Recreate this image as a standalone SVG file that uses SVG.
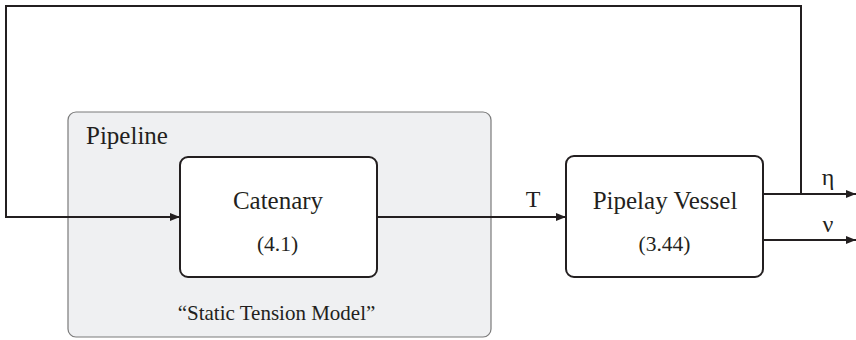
<svg xmlns="http://www.w3.org/2000/svg" width="856" height="340" viewBox="0 0 856 340">
<style>
.t{fill:#231f20}
.blk{fill:#fff;stroke:#231f20;stroke-width:2}
.ln{fill:none;stroke:#231f20;stroke-width:2}
</style>
<defs>
<marker id="ah" viewBox="0 0 10 8" refX="10" refY="4" markerWidth="10" markerHeight="8" markerUnits="userSpaceOnUse" orient="auto">
<path d="M0,0 L10,4 L0,8 z" fill="#231f20"/>
</marker>
</defs>
<g font-family="'Liberation Serif', 'DejaVu Serif', serif">
<g id="pipeline">
<rect x="68" y="112" width="423" height="225" rx="8" fill="#eff0f2" stroke="#7a7a7a" stroke-width="1.2"/>
<text class="t" x="86" y="144" font-size="25">Pipeline</text>
<text class="t" x="276.5" y="320" font-size="21" text-anchor="middle">“Static Tension Model”</text>
</g>
<g id="catenary">
<rect class="blk" x="180" y="157" width="197" height="120" rx="8"/>
<text class="t" x="278" y="209" font-size="25" text-anchor="middle">Catenary</text>
<text class="t" x="277.5" y="251" font-size="21.5" text-anchor="middle">(4.1)</text>
</g>
<g id="vessel">
<rect class="blk" x="566" y="156" width="197" height="121" rx="8"/>
<text class="t" x="665" y="209" font-size="25" text-anchor="middle">Pipelay Vessel</text>
<text class="t" x="664.5" y="251" font-size="21.5" text-anchor="middle">(3.44)</text>
</g>
<g id="connectors">
<path class="ln" d="M801,194 V6 H6 V217 H180" marker-end="url(#ah)"/>
<path class="ln" d="M377,217 H566" marker-end="url(#ah)"/>
<path class="ln" d="M763,194 H856" marker-end="url(#ah)"/>
<path class="ln" d="M763,240 H856" marker-end="url(#ah)"/>
<text class="t" x="533" y="207" font-size="24" text-anchor="middle">T</text>
<text class="t" x="828" y="185" font-size="24" text-anchor="middle">η</text>
<text class="t" x="828" y="232" font-size="24" text-anchor="middle">ν</text>
</g>
</g>
</svg>
